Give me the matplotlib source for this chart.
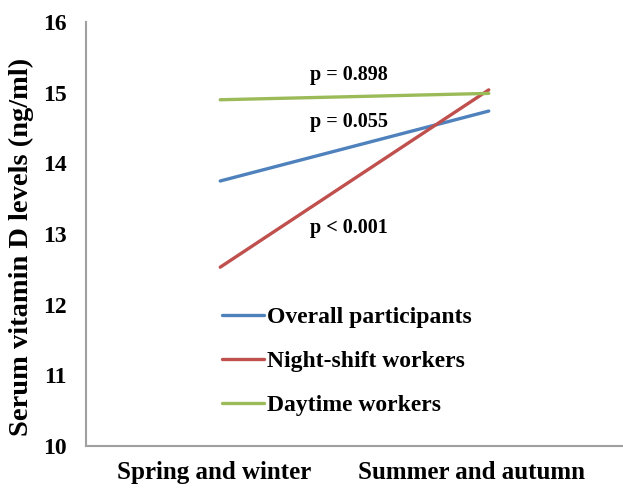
import matplotlib
matplotlib.use("Agg")
import matplotlib.pyplot as plt
from matplotlib.transforms import ScaledTranslation

categories = ["Spring and winter", "Summer and autumn"]
overall = [13.75, 14.74]
night = [12.53, 15.04]
daytime = [14.90, 14.99]
series_labels = ["Overall participants", "Night-shift workers", "Daytime workers"]
p_texts = ["p = 0.898", "p = 0.055", "p < 0.001"]
p_y = [15.25, 14.58, 13.08]
yticks = [10, 11, 12, 13, 14, 15, 16]

plt.rcParams['font.family'] = ['Liberation Serif', 'DejaVu Serif']
plt.rcParams['font.weight'] = 'bold'

fig = plt.figure(figsize=(6.23, 4.9), dpi=100)
ax = fig.add_axes([0.138, 0.09, 0.862, 0.865])

x = list(range(len(categories)))
colors = ["#4F81BD", "#C0504D", "#9BBB59"]
for vals, lab, c in zip([overall, night, daytime], series_labels, colors):
    ax.plot(x, vals, color=c, lw=2.4, label=lab, solid_capstyle='round')

for t, yy in zip(p_texts, p_y):
    ax.text(0.48, yy, t, ha='center', va='center', fontsize=14.5, fontweight='bold')

ax.set_xlim(-0.5, 1.5)
ax.set_ylim(10, 16)
ax.set_yticks(yticks)
ax.set_xticks(x)
ax.set_xticklabels(categories, fontsize=18, fontweight='bold')
ax.set_yticklabels([str(v) for v in yticks], fontsize=17, fontweight='bold')
ax.tick_params(axis='both', length=0)
ax.tick_params(axis='y', pad=14)
ax.tick_params(axis='x', pad=11)
shifts = [-6, -17]
for lbl, dx in zip(ax.get_xticklabels(), shifts):
    lbl.set_transform(lbl.get_transform() + ScaledTranslation(dx / 100, 0, fig.dpi_scale_trans))
for s in ['top', 'right']:
    ax.spines[s].set_visible(False)
for s in ['left', 'bottom']:
    ax.spines[s].set_color('#a0a0a0')
    ax.spines[s].set_linewidth(1.5)

ax.set_ylabel("Serum vitamin D levels (ng/ml)", fontsize=20.5, fontweight='bold')
ax.yaxis.set_label_coords(-0.097, 0.469)

leg = ax.legend(loc='upper left', bbox_to_anchor=(0.253, 0.329), frameon=False,
                fontsize=17, handlelength=1.8, handletextpad=0.1, labelspacing=0.95,
                borderaxespad=0, borderpad=0)

fig.savefig("out.png", dpi=100)
